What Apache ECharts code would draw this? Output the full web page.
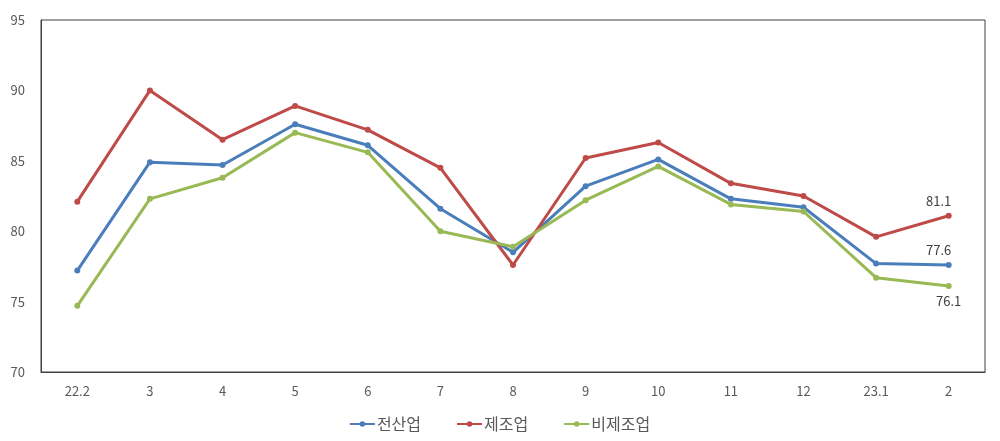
<!DOCTYPE html>
<html><head><meta charset="utf-8">
<script src="https://cdn.jsdelivr.net/npm/echarts@6/dist/echarts.min.js"></script>
<style>html,body{margin:0;padding:0;background:#fff}#c{width:1000px;height:441px}</style>
</head><body><div id="c"></div>
<script>
const categories = ['22.2','3','4','5','6','7','8','9','10','11','12','23.1','2'];
const allIndustry = [77.2,84.9,84.7,87.6,86.1,81.6,78.5,83.2,85.1,82.3,81.7,77.7,77.6];
const manufacturing = [82.1,90.0,86.5,88.9,87.2,84.5,77.6,85.2,86.3,83.4,82.5,79.6,81.1];
const nonManufacturing = [74.7,82.3,83.8,87.0,85.6,80.0,78.9,82.2,84.6,81.9,81.4,76.7,76.1];
const seriesNames = ['전산업','제조업','비제조업'];
const colors = ['#4a7ebb','#be4b48','#98b954'];
const font = '"Noto Sans CJK KR", "Noto Sans", sans-serif';
const legendIcon = 'path://M0,2L25,2L25,4L0,4Z M12.5,0.2A2.8,2.8 0 1 1 12.5,5.8A2.8,2.8 0 1 1 12.5,0.2Z';

function mk(name, data, color, pos, offset){
  return {
    name, type:'line', data, symbol:'circle', symbolSize:6,
    lineStyle:{width:3,color}, itemStyle:{color},
    label:{show:true, position:pos, offset, color:'#404040', fontSize:13, fontFamily:font,
      formatter:p => p.dataIndex === data.length-1 ? p.value.toFixed(1) : ''},
    emphasis:{disabled:true}
  };
}
const chart = echarts.init(document.getElementById('c'));
chart.setOption({
  animation:false,
  color:colors,
  grid:{left:41,right:15,top:20,bottom:69,show:true,borderColor:'#404040',borderWidth:1,backgroundColor:'transparent'},
  legend:{bottom:4,left:'center',itemGap:36,itemWidth:25,itemHeight:6,
    textStyle:{fontFamily:font,fontSize:16,color:'#595959',padding:[0,0,0,-3]},
    data:seriesNames.map(n=>({name:n,icon:legendIcon}))},
  xAxis:{type:'category',data:categories,boundaryGap:true,
    axisLine:{show:true,lineStyle:{color:'#404040'}},axisTick:{show:false},
    axisLabel:{color:'#595959',fontSize:13,fontFamily:font,margin:13}},
  yAxis:{type:'value',min:70,max:95,interval:5,
    axisLine:{show:true,lineStyle:{color:'#404040'}},axisTick:{show:false},splitLine:{show:false},
    axisLabel:{color:'#595959',fontSize:13,fontFamily:font,margin:16}},
  series:[
    mk(seriesNames[0], allIndustry, colors[0], 'top', [-10,0]),
    mk(seriesNames[1], manufacturing, colors[1], 'top', [-10,0]),
    mk(seriesNames[2], nonManufacturing, colors[2], 'bottom', [0,0])
  ]
});
</script></body></html>
